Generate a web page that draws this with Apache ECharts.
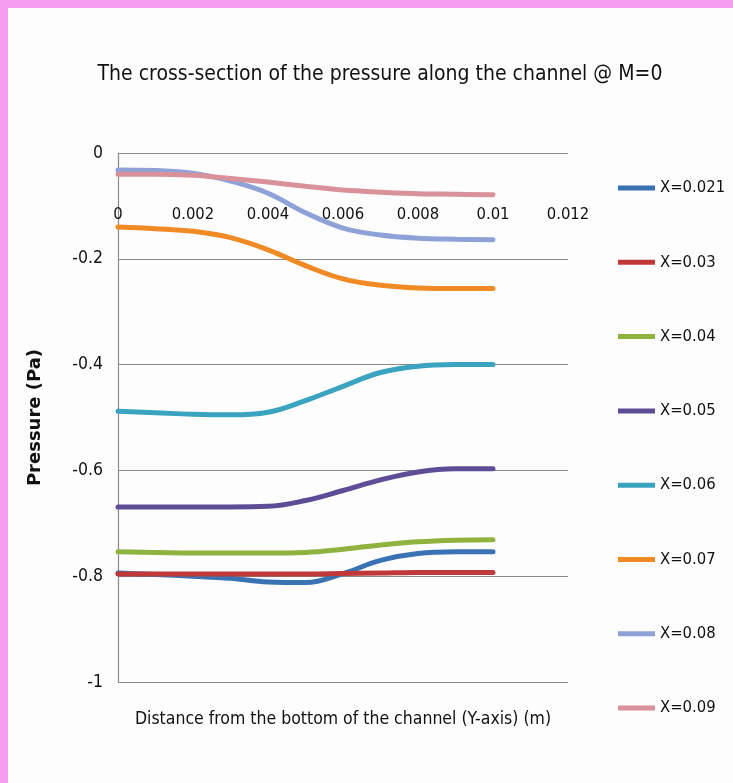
<!DOCTYPE html>
<html>
<head>
<meta charset="utf-8">
<script src="https://cdn.jsdelivr.net/npm/echarts@6/dist/echarts.min.js"></script>
<style>
  html, body { margin: 0; padding: 0; background: #fdfdfd; }
  #chart { width: 733px; height: 783px; }
</style>
</head>
<body>
<div id="chart"></div>
<script>
// distance from the bottom of the channel (m)
var yPos = [0, 0.001, 0.002, 0.003, 0.004, 0.005, 0.006, 0.007, 0.008, 0.009, 0.010];

// pressure (Pa) at each station X
var seriesNames = ['X=0.021', 'X=0.03', 'X=0.04', 'X=0.05', 'X=0.06', 'X=0.07', 'X=0.08', 'X=0.09'];
var p021 = [-0.794, -0.797, -0.800, -0.804, -0.811, -0.812, -0.795, -0.770, -0.757, -0.754, -0.754];
var p03  = [-0.796, -0.796, -0.796, -0.796, -0.796, -0.796, -0.795, -0.794, -0.793, -0.793, -0.793];
var p04  = [-0.754, -0.755, -0.756, -0.756, -0.756, -0.755, -0.749, -0.741, -0.735, -0.732, -0.731];
var p05  = [-0.669, -0.669, -0.669, -0.669, -0.668, -0.657, -0.638, -0.618, -0.603, -0.597, -0.597];
var p06  = [-0.488, -0.491, -0.494, -0.495, -0.490, -0.468, -0.441, -0.415, -0.403, -0.400, -0.400];
var p07  = [-0.140, -0.143, -0.148, -0.160, -0.183, -0.213, -0.238, -0.250, -0.255, -0.256, -0.256];
var p08  = [-0.032, -0.033, -0.038, -0.053, -0.076, -0.113, -0.142, -0.155, -0.161, -0.163, -0.164];
var p09  = [-0.040, -0.040, -0.042, -0.048, -0.055, -0.063, -0.070, -0.074, -0.077, -0.078, -0.079];
var allValues = [p021, p03, p04, p05, p06, p07, p08, p09];
var colors = ['#3A73B4', '#C0393A', '#8FB33E', '#5E4C97', '#3AA3C0', '#F08A25', '#8EA2D8', '#D9929A'];

var FONT = '"Liberation Sans Narrow", "DejaVu Sans Condensed", sans-serif';

var chartDom = document.getElementById('chart');
var myChart = echarts.init(chartDom);

var series = seriesNames.map(function (name, i) {
  return {
    name: name,
    type: 'line',
    smooth: 0.4,
    symbol: 'none',
    color: colors[i],
    lineStyle: { width: 5, cap: 'round' },
    data: yPos.map(function (x, j) { return [x, allValues[i][j]]; })
  };
});

var option = {
  backgroundColor: '#fdfdfd',
  animation: false,
  title: {
    text: 'The cross-section of the pressure along the channel @ M=0',
    left: 375,
    textAlign: 'center',
    top: 59,
    textStyle: { fontFamily: FONT, fontSize: 21, fontWeight: 'normal', color: '#111' }
  },
  grid: { left: 118, top: 153, right: 165, bottom: 101 },
  xAxis: [
    {
      type: 'value',
      position: 'top',
      min: 0,
      max: 0.012,
      interval: 0.002,
      axisLine: { show: false },
      axisTick: { show: false },
      splitLine: { show: false },
      axisLabel: {
        inside: true,
        margin: 53,
        fontFamily: FONT,
        fontSize: 16.5,
        color: '#111',
        formatter: function (v) { return String(+v.toFixed(3)); }
      }
    },
    {
      // bottom axis only carries the title
      type: 'value',
      position: 'bottom',
      min: 0,
      max: 0.012,
      interval: 0.002,
      name: 'Distance from the bottom of the channel (Y-axis) (m)',
      nameLocation: 'middle',
      nameGap: 28,
      nameTextStyle: { fontFamily: FONT, fontSize: 17.5, color: '#111' },
      axisLine: { show: false },
      axisTick: { show: false },
      splitLine: { show: false },
      axisLabel: { show: false }
    }
  ],
  yAxis: {
    type: 'value',
    min: -1,
    max: 0,
    interval: 0.2,
    name: 'Pressure (Pa)',
    nameLocation: 'middle',
    nameGap: 74,
    nameTextStyle: { fontFamily: '"DejaVu Sans", sans-serif', fontSize: 18, fontWeight: 'bold', color: '#111' },
    axisLine: { show: true, lineStyle: { color: '#8a8a8a', width: 1.2 } },
    axisTick: { show: false },
    axisLabel: {
      margin: 15,
      fontFamily: FONT,
      fontSize: 17.5,
      color: '#111',
      formatter: function (v) { return String(+v.toFixed(1)); }
    },
    splitLine: { show: true, lineStyle: { color: '#8a8a8a', width: 1.2 } }
  },
  legend: {
    orient: 'vertical',
    left: 618,
    top: 176,
    padding: 0,
    itemWidth: 37,
    itemHeight: 5,
    itemGap: 50.3,
    icon: 'rect',
    data: seriesNames,
    textStyle: { fontFamily: FONT, fontSize: 16.5, color: '#111', lineHeight: 24 }
  },
  graphic: [
    { type: 'rect', left: 0, top: 0, shape: { width: 733, height: 8 }, style: { fill: '#F49CF0' }, silent: true },
    { type: 'rect', left: 0, top: 0, shape: { width: 8, height: 783 }, style: { fill: '#F49CF0' }, silent: true }
  ],
  series: series
};

myChart.setOption(option);
window.addEventListener('resize', function () {
  myChart.resize();
});
</script>
</body>
</html>
